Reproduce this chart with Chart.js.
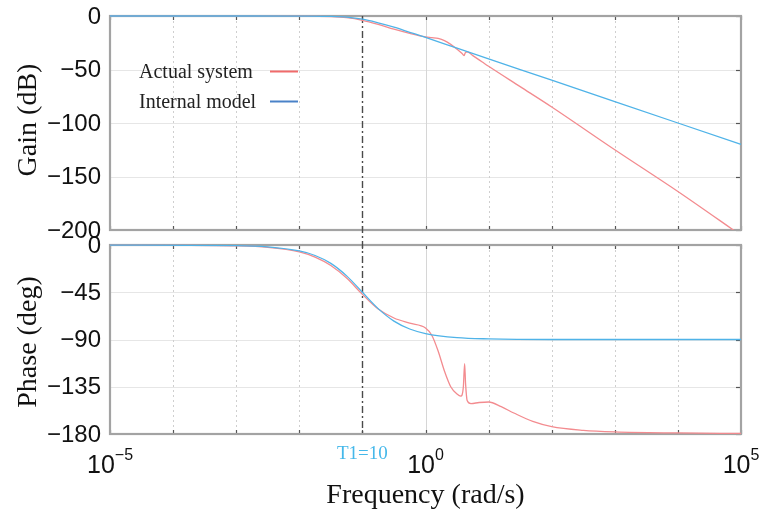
<!DOCTYPE html>
<html lang="en">
<head>
<meta charset="UTF-8">
<title>Bode plot</title>
<style>
  body { margin: 0; background: #fff; }
  #wrap { position: relative; width: 762px; height: 515px; overflow: hidden; }
  canvas { position: absolute; left: 0; }
</style>
</head>
<body>
<div id="wrap">
  <canvas id="gainCanvas" width="762" height="240" style="top:0"></canvas>
  <canvas id="phaseCanvas" width="762" height="290" style="top:225px"></canvas>
</div>

<script src="https://cdn.jsdelivr.net/npm/chart.js"></script>
<script>
// frequency is given as log10(rad/s)
const decades = [-5, -4, -3, -2, -1, 0, 1, 2, 3, 4, 5];
const labeledDecades = [-5, 0, 5];
const gainTicks = [0, -50, -100, -150, -200];
const phaseTicks = [0, -45, -90, -135, -180];
const cornerExp = -1; // T1 = 10 -> 1/T1 = 0.1 rad/s

// gain (dB)
const modelGainX = [-5, -3, -2, -1.5, -1.25, -1, -0.75, -0.5, -0.25, 0, 0.5, 1, 2, 3, 4, 5];
const modelGainDb = [0, 0, -0.1, -0.4, -1.1, -3, -6.4, -10.4, -15.2, -20, -30, -40, -60, -80, -100, -120];
const actualGainX = [-5, -3, -2, -1.5, -1.25, -1, -0.75, -0.5, -0.25, 0, 0.1, 0.2, 0.3, 0.4, 0.5, 0.58, 0.61, 0.63, 0.66, 0.75, 0.9, 1, 1.5, 2, 3, 4, 5];
const actualGainDb = [0, 0, -0.1, -0.6, -1.6, -4, -7.8, -12.3, -16.2, -19.5, -20.2, -21, -23, -26.5, -31, -35, -37, -34.5, -33.5, -37, -43, -47, -66, -85, -125, -164, -205];

// phase (deg)
const modelPhaseX = [-5, -3, -2.5, -2, -1.75, -1.5, -1.25, -1, -0.75, -0.5, -0.25, 0, 0.5, 1, 2, 5];
const modelPhaseDeg = [-0.1, -0.6, -1.8, -5.7, -10, -17.5, -29.4, -45, -60.6, -72.5, -80, -84.3, -88.2, -89.4, -90, -90];
const actualPhaseX = [-5, -4, -3, -2.5, -2, -1.75, -1.5, -1.25, -1, -0.75, -0.5, -0.25, 0, 0.1, 0.2, 0.3, 0.4, 0.5, 0.56, 0.6, 0.62, 0.635, 0.66, 0.72, 0.85, 1, 1.2, 1.4, 1.7, 2, 2.5, 3, 4, 5];
const actualPhaseDeg = [-0.1, -0.3, -0.8, -2.2, -6.5, -11.5, -19.5, -31.5, -47, -61, -69.5, -74.5, -79, -86, -101, -120, -135, -142, -144, -135, -113, -132, -148, -151, -150, -149.5, -154, -160, -168, -173, -176.5, -178, -179, -179.5];

const actualColor = '#f38b8f';
const modelColor = '#4fb3e8';

function pts(xs, ys) {
    return xs.map((x, i) => ({ x: x, y: ys[i] }));
}

function fmt(v) {
    return v === 0 ? '0' : '\u2212' + Math.abs(v);
}

function series(label, xs, ys, color) {
    return {
        label: label,
        data: pts(xs, ys),
        borderColor: color,
        borderWidth: 1.3,
        pointRadius: 0,
        fill: false,
        cubicInterpolationMode: 'monotone',
        clip: { left: 2, top: 3, right: 2, bottom: 0 }
    };
}

// frame, decade grid, inner ticks, y labels, dash-dot corner line
function drawPanel(chart, ticks, lineTop, lineBottom, dashOffset) {
    const ctx = chart.ctx;
    const a = chart.chartArea;
    const xs = chart.scales.x;
    const ys = chart.scales.y;
    ctx.save();
    ticks.forEach(v => {
        const py = Math.round(ys.getPixelForValue(v)) + 0.5;
        ctx.beginPath();
        ctx.strokeStyle = '#e6e6e6';
        ctx.lineWidth = 1.2;
        ctx.moveTo(a.left, py);
        ctx.lineTo(a.right, py);
        ctx.stroke();
    });
    decades.forEach(d => {
        const px = Math.round(xs.getPixelForValue(d)) + 0.5;
        if (d === -5 || d === 5 || d === cornerExp) return;
        ctx.beginPath();
        ctx.strokeStyle = d === 0 ? '#d6d6d6' : '#cfcfcf';
        ctx.lineWidth = 1;
        ctx.setLineDash(d === 0 ? [] : [2, 3]);
        ctx.moveTo(px, a.top);
        ctx.lineTo(px, a.bottom);
        ctx.stroke();
    });
    ctx.setLineDash([]);
    ctx.strokeStyle = '#555';
    ctx.lineWidth = 1.2;
    decades.forEach(d => {
        const px = Math.round(xs.getPixelForValue(d)) + 0.5;
        ctx.beginPath();
        ctx.moveTo(px, a.top);
        ctx.lineTo(px, a.top + 4);
        ctx.moveTo(px, a.bottom);
        ctx.lineTo(px, a.bottom - 4);
        ctx.stroke();
    });
    ticks.forEach(v => {
        const py = Math.round(ys.getPixelForValue(v)) + 0.5;
        ctx.beginPath();
        ctx.moveTo(a.right, py);
        ctx.lineTo(a.right - 5, py);
        ctx.stroke();
    });
    ctx.strokeStyle = '#a3a3a3';
    ctx.lineWidth = 2.2;
    ctx.strokeRect(a.left, a.top, a.right - a.left, a.bottom - a.top);

    const cx = Math.round(xs.getPixelForValue(cornerExp)) + 0.5;
    ctx.strokeStyle = '#4a4a4a';
    ctx.lineWidth = 1.4;
    ctx.setLineDash([7, 3, 2, 3]);
    ctx.lineDashOffset = dashOffset;
    ctx.beginPath();
    ctx.moveTo(cx, lineTop);
    ctx.lineTo(cx, lineBottom);
    ctx.stroke();
    ctx.restore();
}

function drawYLabels(chart, ticks) {
    const ctx = chart.ctx;
    const ys = chart.scales.y;
    ctx.save();
    ctx.font = '24px "Liberation Sans", sans-serif';
    ctx.fillStyle = '#111';
    ctx.textAlign = 'right';
    ctx.textBaseline = 'middle';
    ticks.forEach(v => {
        ctx.fillText(fmt(v), chart.chartArea.left - 9, ys.getPixelForValue(v) + 1);
    });
    ctx.restore();
}

function rotatedTitle(ctx, text, x, y) {
    ctx.save();
    ctx.translate(x, y);
    ctx.rotate(-Math.PI / 2);
    ctx.fillStyle = '#111';
    ctx.font = '28px "Liberation Serif", serif';
    ctx.textAlign = 'center';
    ctx.textBaseline = 'middle';
    ctx.fillText(text, 0, 0);
    ctx.restore();
}

const gainDecor = {
    id: 'gainDecor',
    beforeDatasetsDraw(chart) {
        drawPanel(chart, gainTicks, chart.chartArea.top, 240, 0);
    },
    afterDraw(chart) {
        const ctx = chart.ctx;
        drawYLabels(chart, gainTicks);
        rotatedTitle(ctx, 'Gain (dB)', 29, 120);
        ctx.save();
        ctx.font = '20px "Liberation Serif", serif';
        ctx.fillStyle = '#222';
        ctx.textBaseline = 'alphabetic';
        ctx.textAlign = 'left';
        ctx.fillText('Actual system', 139, 78);
        ctx.fillText('Internal model', 139, 108);
        ctx.lineWidth = 2;
        ctx.strokeStyle = '#f06b6b';
        ctx.beginPath();
        ctx.moveTo(270, 71.5);
        ctx.lineTo(298, 71.5);
        ctx.stroke();
        ctx.strokeStyle = '#4a82c8';
        ctx.beginPath();
        ctx.moveTo(270, 101.5);
        ctx.lineTo(298, 101.5);
        ctx.stroke();
        ctx.restore();
    }
};

const phaseDecor = {
    id: 'phaseDecor',
    beforeDatasetsDraw(chart) {
        drawPanel(chart, phaseTicks, 15, chart.chartArea.bottom, 224);
    },
    afterDraw(chart) {
        const ctx = chart.ctx;
        const xs = chart.scales.x;
        drawYLabels(chart, phaseTicks);
        rotatedTitle(ctx, 'Phase (deg)', 29, 342 - 225);
        ctx.save();
        // decade labels 10^n
        labeledDecades.forEach(d => {
            const px = xs.getPixelForValue(d);
            const base = '10';
            const sup = d < 0 ? '\u2212' + Math.abs(d) : String(d);
            ctx.font = '25px "Liberation Sans", sans-serif';
            const wb = ctx.measureText(base).width;
            ctx.font = '16px "Liberation Sans", sans-serif';
            const ws = ctx.measureText(sup).width;
            const left = px - (wb + ws) / 2;
            ctx.fillStyle = '#111';
            ctx.textAlign = 'left';
            ctx.textBaseline = 'alphabetic';
            ctx.font = '25px "Liberation Sans", sans-serif';
            ctx.fillText(base, left, 473 - 225);
            ctx.font = '16px "Liberation Sans", sans-serif';
            ctx.fillText(sup, left + wb, 460 - 225);
        });
        ctx.font = '19px "Liberation Serif", serif';
        ctx.fillStyle = '#45b8ea';
        ctx.textAlign = 'center';
        ctx.fillText('T1=10', xs.getPixelForValue(cornerExp), 459 - 225);
        ctx.font = '28px "Liberation Serif", serif';
        ctx.fillStyle = '#111';
        ctx.fillText('Frequency (rad/s)', xs.getPixelForValue(0), 503 - 225);
        ctx.restore();
    }
};

function makeChart(id, datasets, ticks, pad, plugin) {
    const ctx = document.getElementById(id).getContext('2d');
    return new Chart(ctx, {
        type: 'line',
        data: { datasets: datasets },
        options: {
            responsive: false,
            animation: false,
            layout: { padding: pad },
            plugins: { legend: { display: false }, tooltip: { enabled: false } },
            scales: {
                x: { type: 'linear', min: -5, max: 5, display: false },
                y: {
                    min: ticks[ticks.length - 1],
                    max: ticks[0],
                    afterFit: s => { s.width = 110; },
                    border: { display: false },
                    grid: { display: false },
                    ticks: { display: false }
                }
            }
        },
        plugins: [plugin]
    });
}

makeChart('gainCanvas', [
    series('Internal model', modelGainX, modelGainDb, modelColor),
    series('Actual system', actualGainX, actualGainDb, actualColor)
], gainTicks, { top: 16, bottom: 10, left: 0, right: 21 }, gainDecor);

makeChart('phaseCanvas', [
    series('Internal model', modelPhaseX, modelPhaseDeg, modelColor),
    series('Actual system', actualPhaseX, actualPhaseDeg, actualColor)
], phaseTicks, { top: 20, bottom: 81, left: 0, right: 21 }, phaseDecor);
</script>
</body>
</html>
